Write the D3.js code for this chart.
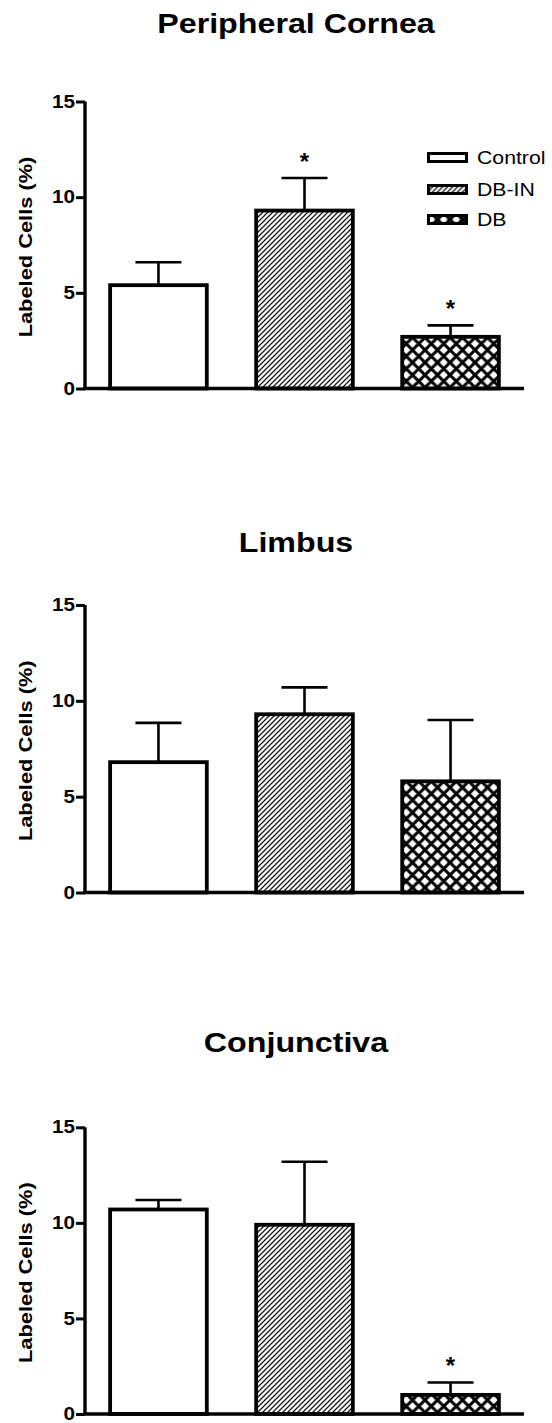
<!DOCTYPE html>
<html>
<head>
<meta charset="utf-8">
<script src="https://cdn.jsdelivr.net/npm/d3@7"></script>
<style>
  html, body { margin: 0; padding: 0; background: #fff; }
  svg { display: block; }
  text { font-family: "Liberation Sans", Arial, Helvetica, sans-serif; fill: #000; }
</style>
</head>
<body>
<svg id="chart" width="552" height="1423"></svg>
<script>
// ---------------- data ----------------
const categories = ["Control", "DB-IN", "DB"];
const panelTitles = ["Peripheral Cornea", "Limbus", "Conjunctiva"];
const yTickValues = [0, 5, 10, 15];
const yAxisLabel = "Labeled Cells (%)";

const meanPeripheral = [5.4, 9.3, 2.7];
const errPeripheral  = [1.2, 1.7, 0.6];
const sigPeripheral  = ["", "*", "*"];

const meanLimbus = [6.8, 9.3, 5.8];
const errLimbus  = [2.05, 1.4, 3.2];
const sigLimbus  = ["", "", ""];

const meanConj = [10.7, 9.9, 1.0];
const errConj  = [0.5, 3.3, 0.65];
const sigConj  = ["", "", "*"];

// ---------------- layout ----------------
const panels = [
  { title: panelTitles[0], mean: meanPeripheral, err: errPeripheral, sig: sigPeripheral,
    y0: 388.5, y15: 101.5, titleY: 33, legend: true },
  { title: panelTitles[1], mean: meanLimbus, err: errLimbus, sig: sigLimbus,
    y0: 892.5, y15: 605, titleY: 552, legend: false },
  { title: panelTitles[2], mean: meanConj, err: errConj, sig: sigConj,
    y0: 1414, y15: 1127.3, titleY: 1052, legend: false }
];
const axisX = 85, axisEnd = 524;
const textStretch = 1.18;

const svg = d3.select("#chart");
svg.append("rect").attr("width", 552).attr("height", 1423).attr("fill", "#fff");

// patterns
const defs = svg.append("defs");
const hatch = defs.append("pattern").attr("id", "hatch")
  .attr("patternUnits", "userSpaceOnUse").attr("width", 5).attr("height", 5);
hatch.append("rect").attr("width", 5).attr("height", 5).attr("fill", "#fff");
hatch.append("path").attr("d", "M-1,1 L1,-1 M0,5 L5,0 M4,6 L6,4")
  .attr("stroke", "#1a1a1a").attr("stroke-width", 1.3);

const cross = defs.append("pattern").attr("id", "cross")
  .attr("patternUnits", "userSpaceOnUse").attr("width", 12.5).attr("height", 12.5);
cross.append("rect").attr("width", 12.5).attr("height", 12.5).attr("fill", "#fff");
cross.append("path").attr("d", "M0,0 L12.5,12.5 M0,12.5 L12.5,0 M-2,2 L2,-2 M10.5,14.5 L14.5,10.5 M-2,10.5 L2,14.5 M10.5,-2 L14.5,2")
  .attr("stroke", "#000").attr("stroke-width", 3);

const fills = { "Control": "#fff", "DB-IN": "url(#hatch)", "DB": "url(#cross)" };

const x = d3.scaleBand().domain(categories).range([axisX, axisEnd])
  .paddingInner(0.338).paddingOuter(0.172);

function stretch(sel, k) {
  sel.each(function () {
    const len = this.getComputedTextLength();
    d3.select(this).attr("textLength", len * k).attr("lengthAdjust", "spacingAndGlyphs");
  });
}

panels.forEach(p => {
  const y = d3.scaleLinear().domain([0, 15]).range([p.y0, p.y15]);
  const g = svg.append("g");
  const rows = categories.map((c, i) => ({ cat: c, mean: p.mean[i], err: p.err[i], sig: p.sig[i] }));

  // title
  g.append("text").attr("x", 296).attr("y", p.titleY)
    .attr("text-anchor", "middle").attr("font-size", 28).attr("font-weight", "bold")
    .text(p.title).call(stretch, textStretch * 0.975);

  // y-axis label
  const cy = (p.y0 + p.y15) / 2 + 2;
  g.append("text").attr("transform", `translate(32,${cy}) rotate(-90)`)
    .attr("text-anchor", "middle").attr("font-size", 18.5).attr("font-weight", "bold")
    .text(yAxisLabel).call(stretch, textStretch);

  // error bars
  const eb = g.selectAll(".eb").data(rows).join("g");
  eb.append("line")
    .attr("x1", d => x(d.cat) + x.bandwidth() / 2).attr("x2", d => x(d.cat) + x.bandwidth() / 2)
    .attr("y1", d => y(d.mean)).attr("y2", d => y(d.mean + d.err))
    .attr("stroke", "#000").attr("stroke-width", 2.6);
  eb.append("line")
    .attr("x1", d => x(d.cat) + x.bandwidth() / 2 - 23).attr("x2", d => x(d.cat) + x.bandwidth() / 2 + 23)
    .attr("y1", d => y(d.mean + d.err)).attr("y2", d => y(d.mean + d.err))
    .attr("stroke", "#000").attr("stroke-width", 2.6);

  // bars
  g.selectAll(".bar").data(rows).join("rect")
    .attr("x", d => x(d.cat)).attr("width", x.bandwidth())
    .attr("y", d => y(d.mean)).attr("height", d => y(0) - y(d.mean))
    .attr("fill", d => fills[d.cat]).attr("stroke", "#000").attr("stroke-width", 3.8);

  // significance stars
  g.selectAll(".sig").data(rows.filter(d => d.sig)).join("text")
    .attr("x", d => x(d.cat) + x.bandwidth() / 2)
    .attr("y", d => y(d.mean + d.err) - 22 + 14)
    .attr("text-anchor", "middle").attr("font-size", 24).attr("font-weight", "bold")
    .text(d => d.sig);

  // y axis
  const yAxis = d3.axisLeft(y).tickValues(yTickValues).tickSize(9).tickPadding(1).tickFormat(d3.format("d"));
  const ya = g.append("g").attr("transform", `translate(${axisX},0)`).call(yAxis);
  ya.select(".domain").attr("stroke", "#000").attr("stroke-width", 3.4)
    .attr("d", `M0,${p.y0}V${p.y15}`);
  ya.selectAll(".tick line").attr("stroke", "#000").attr("stroke-width", 3);
  ya.selectAll(".tick text").attr("font-size", 17.5).attr("font-weight", "bold")
    .attr("font-family", '"Liberation Sans", Arial, sans-serif').attr("fill", "#000")
    .call(stretch, textStretch);

  // x axis baseline
  g.append("line").attr("x1", axisX - 1.7).attr("x2", axisEnd)
    .attr("y1", y(0)).attr("y2", y(0)).attr("stroke", "#000").attr("stroke-width", 3.4);

  // legend
  if (p.legend) {
    const legY = [157.5, 189.5, 219.5];
    const lg = g.selectAll(".leg").data(categories).join("g")
      .attr("transform", (d, i) => `translate(0,${legY[i]})`);
    lg.append("rect").attr("x", 428.5).attr("y", -4).attr("width", 38).attr("height", 8)
      .attr("fill", d => fills[d]).attr("stroke", "#000").attr("stroke-width", 3);
    lg.append("text").attr("x", 477).attr("y", 6.5).attr("font-size", 18)
      .text(d => d).call(stretch, textStretch);
  }
});
</script>
</body>
</html>
